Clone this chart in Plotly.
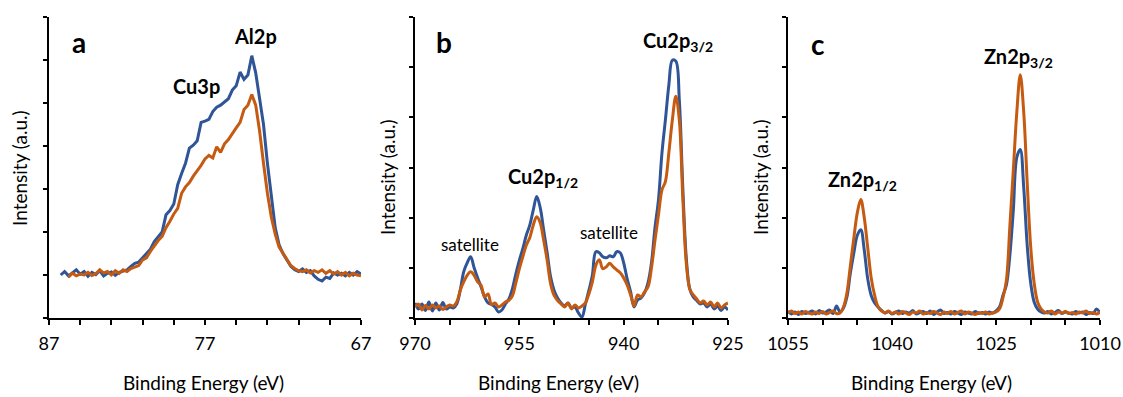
import numpy as np
import plotly.graph_objects as go

# ---------------- data ----------------
# (a) Al2p / Cu3p region, 0.25 eV steps
be_a_blue = np.arange(86.25, 66.99, -0.25)
be_a_orange = np.arange(85.75, 66.99, -0.25)
int_a_blue = [
    1.00, 1.08, 0.98, 1.05, 1.12, 1.02, 1.08, 0.97, 1.06, 1.01, 1.10, 0.98, 1.04, 1.07, 0.99, 1.06, 1.09, 1.12,
    1.20, 1.27, 1.30, 1.40, 1.48, 1.60, 1.78, 1.90, 2.00, 2.40, 2.50, 2.65,
    3.10, 3.36, 3.60, 3.95, 4.02, 4.12, 4.55, 4.58, 4.62, 4.80, 4.90, 4.95,
    5.02, 5.10, 5.30, 5.40, 5.72, 5.55, 5.65, 6.10, 5.70, 5.15, 4.50, 3.60,
    2.80, 2.10, 1.70, 1.50, 1.35, 1.20, 1.12, 1.08, 1.14, 1.06, 1.10, 0.98,
    0.90, 0.86, 0.95, 0.92, 1.05, 1.00, 1.04, 0.98, 1.06, 1.00, 1.08, 1.02,
]
int_a_orange = [
    0.95, 1.04, 0.98, 1.02, 1.00, 1.06, 0.99, 1.03, 1.12, 1.05, 1.08, 1.00, 1.10, 1.04, 1.12, 1.08,
    1.15, 1.18, 1.22, 1.35, 1.40, 1.55, 1.68, 1.80, 1.90, 2.10, 2.25, 2.42,
    2.55, 2.90, 3.05, 3.15, 3.30, 3.42, 3.55, 3.70, 3.78, 3.72, 3.98, 3.85,
    4.05, 4.15, 4.30, 4.42, 4.55, 4.85, 4.95, 5.20, 4.95, 4.35, 3.60, 2.90,
    2.35, 1.95, 1.65, 1.50, 1.35, 1.22, 1.15, 1.10, 1.08, 1.12, 1.05, 1.10,
    1.06, 1.12, 1.04, 1.10, 1.02, 1.08, 1.00, 1.06, 0.98, 1.04, 1.00, 0.98,
]

# (b) Cu2p region, 0.5 eV steps
be_b = np.arange(970.0, 924.99, -0.5)
int_b_blue = [
    0.30, 0.18, 0.28, 0.15, 0.32, 0.14, 0.30, 0.16, 0.31, 0.18,
    0.22, 0.20, 0.28, 0.55, 0.92, 1.10, 1.22, 1.00, 0.80, 0.62,
    0.42, 0.30, 0.27, 0.22, 0.12, 0.16, 0.28, 0.38, 0.58, 0.88,
    1.15, 1.38, 1.65, 1.85, 2.15, 2.42, 2.20, 1.75, 1.30, 0.82,
    0.55, 0.40, 0.30, 0.24, 0.30, 0.20, 0.22, 0.10, 0.02, 0.28,
    0.55, 0.85, 1.32, 1.30, 1.22, 1.20, 1.24, 1.22, 1.32, 1.30,
    1.10, 0.78, 0.52, 0.22, 0.36, 0.40, 0.50, 0.70, 1.10, 1.80,
    2.35, 3.28, 3.95, 4.65, 5.14, 5.12, 4.35, 2.60, 1.20, 0.58,
    0.42, 0.35, 0.28, 0.30, 0.22, 0.28, 0.18, 0.24, 0.15, 0.22,
    0.16,
]
int_b_orange = [
    0.22, 0.28, 0.16, 0.25, 0.18, 0.26, 0.20, 0.24, 0.17, 0.22,
    0.26, 0.24, 0.32, 0.55, 0.72, 0.85, 0.92, 0.85, 0.72, 0.65,
    0.42, 0.48, 0.27, 0.30, 0.22, 0.26, 0.32, 0.35, 0.44, 0.70,
    0.98, 1.22, 1.45, 1.60, 1.85, 2.02, 1.90, 1.55, 1.15, 0.68,
    0.45, 0.35, 0.28, 0.22, 0.30, 0.18, 0.26, 0.20, 0.24, 0.30,
    0.48, 0.72, 1.05, 1.16, 0.98, 1.02, 1.09, 1.02, 0.96, 0.90,
    0.80, 0.66, 0.46, 0.24, 0.46, 0.42, 0.52, 0.62, 1.00, 1.55,
    2.05, 2.55, 2.72, 3.30, 3.95, 4.42, 3.95, 2.40, 1.10, 0.58,
    0.46, 0.38, 0.30, 0.34, 0.26, 0.32, 0.22, 0.30, 0.20, 0.26,
    0.30,
]

# (c) Zn2p region, 0.5 eV steps
be_c = np.arange(1055.0, 1009.99, -0.5)
int_c_blue = [
    0.14, 0.08, 0.12, 0.07, 0.13, 0.09, 0.11, 0.14, 0.08, 0.15,
    0.10, 0.12, 0.16, 0.09, 0.24, 0.12, 0.20, 0.42, 0.90, 1.30,
    1.65, 1.76, 1.35, 0.78, 0.45, 0.30, 0.22, 0.15, 0.10, 0.13,
    0.08, 0.11, 0.14, 0.09, 0.12, 0.10, 0.15, 0.08, 0.11, 0.13,
    0.09, 0.14, 0.07, 0.12, 0.16, 0.09, 0.11, 0.08, 0.13, 0.10,
    0.07, 0.12, 0.10, 0.08, 0.13, 0.09, 0.11, 0.08, 0.12, 0.10,
    0.14, 0.22, 0.45, 0.66, 1.25, 2.15, 3.20, 3.36, 2.60, 1.45,
    0.70, 0.32, 0.18, 0.12, 0.10, 0.13, 0.08, 0.11, 0.15, 0.09,
    0.12, 0.10, 0.08, 0.13, 0.10, 0.12, 0.07, 0.11, 0.09, 0.18,
    0.10,
]
int_c_orange = [
    0.10, 0.14, 0.09, 0.12, 0.08, 0.13, 0.10, 0.08, 0.12, 0.09,
    0.13, 0.08, 0.11, 0.14, 0.09, 0.10, 0.22, 0.50, 1.05, 1.60,
    2.10, 2.36, 2.00, 1.40, 0.80, 0.45, 0.22, 0.14, 0.10, 0.14,
    0.09, 0.12, 0.08, 0.13, 0.10, 0.07, 0.12, 0.10, 0.14, 0.08,
    0.11, 0.09, 0.13, 0.10, 0.07, 0.12, 0.09, 0.13, 0.08, 0.11,
    0.14, 0.08, 0.12, 0.10, 0.07, 0.11, 0.09, 0.12, 0.08, 0.10,
    0.12, 0.18, 0.40, 0.75, 1.83, 2.95, 4.10, 4.85, 4.10, 2.70,
    1.43, 0.70, 0.32, 0.18, 0.12, 0.10, 0.14, 0.08, 0.12, 0.10,
    0.13, 0.09, 0.11, 0.08, 0.12, 0.10, 0.14, 0.09, 0.11, 0.08,
    0.12,
]

# axis ticks: labelled majors plus unlabelled minors
major_a = [87, 77, 67]
minor_a = list(range(87, 66, -2))
major_b = [970, 955, 940, 925]
minor_b = list(range(970, 924, -5))
major_c = [1055, 1040, 1025, 1010]
minor_c = list(range(1055, 1009, -5))

BLUE = "#2F5597"
ORANGE = "#C55A11"
FONT = "Lato"
W, H = 1123, 397


def px(x):
    return x / W


def py(y):
    return 1 - y / H


fig = go.Figure()

panels = [
    ("x", "y", be_a_blue, int_a_blue, be_a_orange, int_a_orange, "linear"),
    ("x2", "y2", be_b, int_b_blue, be_b, int_b_orange, "spline"),
    ("x3", "y3", be_c, int_c_blue, be_c, int_c_orange, "spline"),
]
for xa, ya, xb, yb, xo, yo, shape in panels:
    fig.add_trace(go.Scatter(x=xb, y=yb, xaxis=xa, yaxis=ya, mode="lines",
                             line=dict(color=BLUE, width=3, shape=shape),
                             showlegend=False))
    fig.add_trace(go.Scatter(x=xo, y=yo, xaxis=xa, yaxis=ya, mode="lines",
                             line=dict(color=ORANGE, width=3, shape=shape),
                             showlegend=False))

y_dom = [py(318), py(17)]
x_doms = [[px(49), px(361)], [px(415), px(728)], [px(788), px(1100)]]
x_ranges = [[87, 67], [970, 925], [1055, 1010]]
y_ranges = [[0, 7], [0, 6], [0, 6]]
tick_sets = [(major_a, minor_a), (major_b, minor_b), (major_c, minor_c)]

axis_common = dict(showline=True, linecolor="black", linewidth=1.6, showgrid=False,
                   zeroline=False, ticks="outside", tickcolor="black", tickwidth=1.6,
                   automargin=False)

layout = dict(width=W, height=H, margin=dict(l=0, r=0, t=0, b=0, pad=0),
              autosize=False, plot_bgcolor="white", paper_bgcolor="white",
              font=dict(family=FONT, color="black"))
for i in range(3):
    sfx = "" if i == 0 else str(i + 1)
    majors, minors = tick_sets[i]
    layout["xaxis" + sfx] = dict(
        axis_common, domain=x_doms[i], range=x_ranges[i], anchor="y" + sfx,
        tickvals=majors, ticktext=[str(t) for t in majors], ticklen=5,
        minor=dict(tickvals=minors, ticks="outside", ticklen=5, tickwidth=1.6,
                   tickcolor="black", showgrid=False),
        ticklabelstandoff=4, ticklabeloverflow="allow",
        tickfont=dict(family=FONT, size=18, color="black"))
    layout["yaxis" + sfx] = dict(
        axis_common, domain=y_dom, range=y_ranges[i], anchor="x" + sfx,
        tickvals=list(range(y_ranges[i][1] + 1)), showticklabels=False, ticklen=4)
fig.update_layout(**layout)

annos = [
    # panel letters
    ("<b>a</b>", 79, 42, 28, 0),
    ("<b>b</b>", 444, 42, 28, 0),
    ("<b>c</b>", 818, 44, 28, 0),
    # peak labels
    ("<b>Cu3p</b>", 196, 86, 20, 0),
    ("<b>Al2p</b>", 255, 36, 20, 0),
    ("<b>Cu2p<sub>3/2</sub></b>", 678, 42, 20, 0),
    ("<b>Cu2p<sub>1/2</sub></b>", 543, 177, 20, 0),
    ("satellite", 470, 244, 17, 0),
    ("satellite", 609, 233, 17, 0),
    ("<b>Zn2p<sub>3/2</sub></b>", 1018, 57, 20, 0),
    ("<b>Zn2p<sub>1/2</sub></b>", 862, 180, 20, 0),
    # axis titles
    ("Binding Energy (eV)", 203, 382, 19, 0),
    ("Binding Energy (eV)", 558, 382, 19, 0),
    ("Binding Energy (eV)", 931, 382, 19, 0),
    ("Intensity (a.u.)", 20, 168, 19, -90),
    ("Intensity (a.u.)", 387, 177, 19, -90),
    ("Intensity (a.u.)", 760, 177, 19, -90),
]
for text, x, y, size, ang in annos:
    fig.add_annotation(text=text, x=px(x), y=py(y), xref="paper", yref="paper",
                       xanchor="center", yanchor="middle", showarrow=False,
                       textangle=ang, font=dict(family=FONT, size=size, color="black"))

fig.write_html("out.html")
